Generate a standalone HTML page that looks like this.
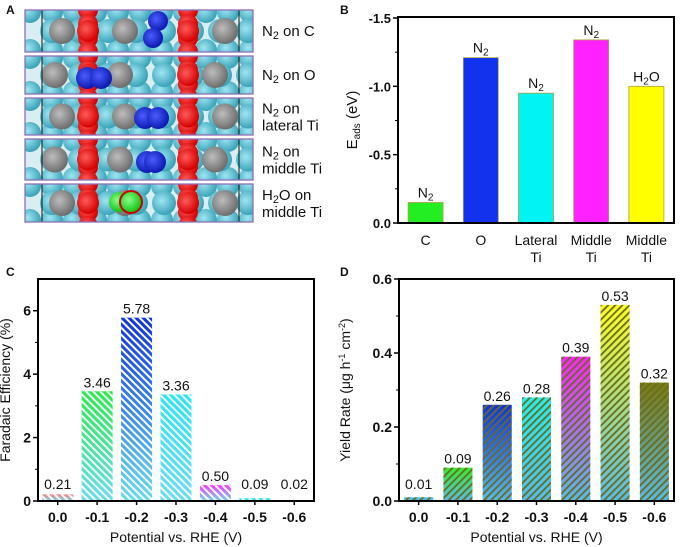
<!DOCTYPE html>
<html><head><meta charset="utf-8">
<style>
body{margin:0;background:#fff;}
svg{display:block;font-family:"Liberation Sans",Arial,sans-serif;}
</style></head>
<body>
<svg id="fig" width="680" height="547" viewBox="0 0 680 547" xmlns="http://www.w3.org/2000/svg">
<defs>
  <pattern id="hatchW" patternUnits="userSpaceOnUse" width="5" height="5" patternTransform="rotate(45)">
    <rect width="5" height="2" fill="#ffffff"/>
  </pattern>
  <pattern id="hatchD" patternUnits="userSpaceOnUse" width="5" height="5" patternTransform="rotate(-45)">
    <rect width="5" height="1.8" fill="#6b6b1a"/>
  </pattern>
  <radialGradient id="gCyan" cx="0.4" cy="0.4" r="0.6"><stop offset="0" stop-color="#9fe6f2"/><stop offset="1" stop-color="#3aa3b8"/></radialGradient>
  <radialGradient id="gGray" cx="0.4" cy="0.4" r="0.6"><stop offset="0" stop-color="#bdbdbd"/><stop offset="1" stop-color="#6e6e6e"/></radialGradient>
  <radialGradient id="gRed" cx="0.4" cy="0.4" r="0.6"><stop offset="0" stop-color="#ff5a5a"/><stop offset="1" stop-color="#d40000"/></radialGradient>
  <radialGradient id="gBlue" cx="0.4" cy="0.4" r="0.6"><stop offset="0" stop-color="#4a5cff"/><stop offset="1" stop-color="#0c1ab0"/></radialGradient>
  <radialGradient id="gGreen" cx="0.4" cy="0.4" r="0.6"><stop offset="0" stop-color="#8aff8a"/><stop offset="1" stop-color="#10c010"/></radialGradient>
</defs>
<g id="panelA"></g>
<g id="panelB"></g>
<g id="panelC"></g>
<g id="panelD"></g>
</svg>
<script>
// ---------- Panel B data ----------
const bCategories = ["C", "O", "Lateral|Ti", "Middle|Ti", "Middle|Ti"];
const bValues = [-0.15, -1.21, -0.95, -1.34, -1.00];
const bLabels = ["N2", "N2", "N2", "N2", "H2O"];
const bColors = ["#22ee22", "#1133ee", "#00f4f4", "#ff22ff", "#ffff00"];
const bTicks = [0, -0.5, -1.0, -1.5];
const bTickLabels = ["0.0", "-0.5", "-1.0", "-1.5"];
// ---------- Panel C data ----------
const cCategories = ["0.0", "-0.1", "-0.2", "-0.3", "-0.4", "-0.5", "-0.6"];
const cValues = [0.21, 3.46, 5.78, 3.36, 0.50, 0.09, 0.02];
const cValueLabels = ["0.21", "3.46", "5.78", "3.36", "0.50", "0.09", "0.02"];
const cTopColors = ["#ff8080", "#22ee44", "#1133dd", "#22e8f0", "#ff33ff", "#22e8f0", "#22e8f0"];
const cTicks = [0, 2, 4, 6];
// ---------- Panel D data ----------
const dCategories = ["0.0", "-0.1", "-0.2", "-0.3", "-0.4", "-0.5", "-0.6"];
const dValues = [0.01, 0.09, 0.26, 0.28, 0.39, 0.53, 0.32];
const dValueLabels = ["0.01", "0.09", "0.26", "0.28", "0.39", "0.53", "0.32"];
const dTopColors = ["#44bbee", "#33ee33", "#1133dd", "#22f0f0", "#ff22ff", "#ffff22", "#7a7a10"];
const dTicks = [0, 0.2, 0.4, 0.6];
const dTickLabels = ["0.0", "0.2", "0.4", "0.6"];

const NS = "http://www.w3.org/2000/svg";
function mk(parent, tag, attrs, text) {
  const e = document.createElementNS(NS, tag);
  for (const k in attrs) e.setAttribute(k, attrs[k]);
  if (text !== undefined) e.textContent = text;
  parent.appendChild(e);
  return e;
}
function chem(parent, x, y, s, size, anchor) {
  const t = mk(parent, "text", {x: x, y: y, "font-size": size, "text-anchor": anchor || "middle", fill: "#111"});
  const m = s.match(/^([A-Z])(\d)(.*)$/);
  if (m) {
    mk(t, "tspan", {}, m[1]);
    mk(t, "tspan", {dy: 3, "font-size": size * 0.72}, m[2]);
    mk(t, "tspan", {dy: -3}, m[3]);
  } else t.textContent = s;
  return t;
}
function panelLetter(g, x, y, L) {
  const t = mk(g, "text", {x: x, y: y, "font-size": 12, "font-weight": "bold", fill: "#111"}, L);
  
  
}

// ---------- Panel A ----------
(function () {
  const g = document.getElementById("panelA");
  panelLetter(g, 6, 14, "A");
  const rows = [[10, 52], [56, 94], [98, 135], [139, 180], [184, 222]];
  const labels = [["N2 on C"], ["N2 on O"], ["N2 on", "lateral Ti"], ["N2 on", "middle Ti"], ["H2O on", "middle Ti"]];
  rows.forEach((r, i) => {
    const box = mk(g, "g", {});
    
    
    const id = "clip" + i;
    const cp = mk(g, "clipPath", {id: id});
    mk(cp, "rect", {x: 25, y: r[0], width: 228, height: r[1] - r[0]});
    const inner = mk(box, "g", {"clip-path": "url(#" + id + ")"});
    mk(inner, "rect", {x: 25, y: r[0], width: 228, height: r[1] - r[0], fill: "#d8eef2"});
    const midY = (r[0] + r[1]) / 2;
    for (let x = 30; x < 260; x += 22) {
      mk(inner, "circle", {cx: x, cy: r[0] + 2, r: 11, fill: "url(#gCyan)"});
      mk(inner, "circle", {cx: x, cy: r[1] - 2, r: 11, fill: "url(#gCyan)"});
    }
    const grayX = i % 2 ? [55, 120, 215] : [62, 125, 225];
    for (let x = 40; x < 260; x += 28) mk(inner, "circle", {cx: x + 12, cy: midY, r: 12, fill: "url(#gCyan)"});
    grayX.forEach(x => mk(inner, "circle", {cx: x, cy: midY, r: 13, fill: "url(#gGray)"}));
    [88, 188].forEach(x => {
      for (let y = r[0]; y <= r[1] + 5; y += 14) mk(inner, "circle", {cx: x, cy: y, r: 10, fill: "url(#gRed)"});
      mk(inner, "circle", {cx: x, cy: midY, r: 11, fill: "url(#gRed)"});
    });
    if (i === 0) { mk(inner, "circle", {cx: 158, cy: 21, r: 10, fill: "url(#gBlue)"}); mk(inner, "circle", {cx: 153, cy: 38, r: 10, fill: "url(#gBlue)"}); }
    if (i === 1) { mk(inner, "circle", {cx: 87, cy: 78, r: 11, fill: "url(#gBlue)"}); mk(inner, "circle", {cx: 101, cy: 78, r: 11, fill: "url(#gBlue)"}); }
    if (i === 2) { mk(inner, "circle", {cx: 145, cy: 118, r: 11, fill: "url(#gBlue)"}); mk(inner, "circle", {cx: 158, cy: 118, r: 11, fill: "url(#gBlue)"}); }
    if (i === 3) { mk(inner, "circle", {cx: 147, cy: 162, r: 11, fill: "url(#gBlue)"}); mk(inner, "circle", {cx: 155, cy: 162, r: 11, fill: "url(#gBlue)"}); }
    if (i === 4) { mk(inner, "circle", {cx: 119, cy: 202, r: 10, fill: "url(#gGreen)"}); mk(inner, "circle", {cx: 131, cy: 202, r: 11, fill: "url(#gGreen)", stroke: "#c00", "stroke-width": 2}); }
    mk(inner, "line", {x1: 42, y1: r[0], x2: 42, y2: r[1], stroke: "#111", "stroke-width": 1});
    mk(inner, "line", {x1: 239, y1: r[0], x2: 239, y2: r[1], stroke: "#111", "stroke-width": 1});
    mk(box, "rect", {x: 25, y: r[0], width: 228, height: r[1] - r[0], fill: "none", stroke: "#8e6fb8", "stroke-width": 1.3});
    const lb = labels[i];
    const ly = lb.length === 1 ? midY + 5 : midY - 3;
    lb.forEach((s, k) => {
      const t = chem(g, 262, ly + k * 17, s, 15, "start");
      
      
    });
  });
})();

function frame(g, L, T, R, B) {
  const f = mk(g, "rect", {x: L, y: T, width: R - L, height: B - T, fill: "none", stroke: "#000", "stroke-width": 2});
  
  
}

// ---------- Panel B ----------
(function () {
  const g = document.getElementById("panelB");
  panelLetter(g, 340, 14, "B");
  const L = 398, R = 674, T = 17, B = 223;
  const y = v => B + (v / 1.5) * (B - 18);
  const step = (R - L) / bValues.length;
  const x = i => L + step * (i + 0.5);
  const bw = 35;
  bValues.forEach((v, i) => {
    const r = mk(g, "rect", {x: x(i) - bw / 2, y: y(v), width: bw, height: B - y(v), fill: bColors[i], stroke: "#b0a040", "stroke-width": 0.8});
    
    
    const t = chem(g, x(i), y(v) - 5, bLabels[i], 14);
    
    
    const parts = bCategories[i].split("|");
    parts.forEach((p, k) => {
      const c = mk(g, "text", {x: x(i), y: 245 + k * 17, "font-size": 14, "text-anchor": "middle", fill: "#111"}, p);
      
      
    });
  });
  frame(g, L, T, R, B);
  bTicks.forEach((v, k) => {
    mk(g, "line", {x1: L, y1: y(v), x2: L - 5, y2: y(v), stroke: "#000", "stroke-width": 1.5});
    const t = mk(g, "text", {x: L - 7, y: y(v) + 5, "font-size": 13, "font-weight": "bold", "text-anchor": "end", fill: "#111"}, bTickLabels[k]);
    
    
    if (k < bTicks.length - 1) { const m = y(v - 0.25); mk(g, "line", {x1: L, y1: m, x2: L - 3, y2: m, stroke: "#000", "stroke-width": 1}); }
  });
  const yt = mk(g, "text", {transform: "translate(357,120) rotate(-90)", "font-size": 15, "text-anchor": "middle", fill: "#111"});
  
  
  mk(yt, "tspan", {}, "E");
  mk(yt, "tspan", {dy: 3, "font-size": 10}, "ads");
  mk(yt, "tspan", {dy: -3}, " (eV)");
})();

function gradChart(gid, letter, L, R, T, B, maxV, ticks, tickLabels, vals, valLabels, cats, tops, bottom, hatch, ytitle, bw, ytx) {
  const g = document.getElementById(gid);
  panelLetter(g, letter === "C" ? 6 : 340, 276, letter);
  const y = v => B - (v / maxV) * (B - T);
  const step = (R - L) / vals.length;
  const x = i => L + step * (i + 0.5);
  vals.forEach((v, i) => {
    const gid2 = gid + "grad" + i;
    const lg = mk(g, "linearGradient", {id: gid2, x1: 0, y1: 0, x2: 0, y2: 1});
    mk(lg, "stop", {offset: 0, "stop-color": tops[i]});
    mk(lg, "stop", {offset: 1, "stop-color": bottom});
    const r = mk(g, "rect", {x: x(i) - bw / 2, y: y(v), width: bw, height: B - y(v), fill: "url(#" + gid2 + ")"});
    
    
    mk(g, "rect", {x: x(i) - bw / 2, y: y(v), width: bw, height: B - y(v), fill: "url(#" + hatch + ")"});
    const t = mk(g, "text", {x: x(i), y: Math.min(y(v), B - 8) - 4, "font-size": 14, "text-anchor": "middle", fill: "#111"}, valLabels[i]);
    
    
    const c = mk(g, "text", {x: x(i), y: 522, "font-size": 14, "font-weight": "bold", "text-anchor": "middle", fill: "#111"}, cats[i]);
    
    
    mk(g, "line", {x1: x(i), y1: B, x2: x(i), y2: B + 4, stroke: "#000", "stroke-width": 1.5});
  });
  frame(g, L, T, R, B);
  ticks.forEach((v, k) => {
    mk(g, "line", {x1: L, y1: y(v), x2: L - 5, y2: y(v), stroke: "#000", "stroke-width": 1.5});
    const t = mk(g, "text", {x: L - 7, y: y(v) + 5, "font-size": 14, "font-weight": "bold", "text-anchor": "end", fill: "#111"}, tickLabels[k]);
    
    
    if (k < ticks.length - 1) { const m = y((v + ticks[k + 1]) / 2); mk(g, "line", {x1: L, y1: m, x2: L - 3, y2: m, stroke: "#000", "stroke-width": 1}); }
  });
  const xt = mk(g, "text", {x: (L + R) / 2, y: 542, "font-size": 14, "text-anchor": "middle", fill: "#111"}, "Potential vs. RHE (V)");
  
  
  const yt = mk(g, "text", {transform: "translate(" + ytx + "," + ((T + B) / 2) + ") rotate(-90)", "font-size": 14, "text-anchor": "middle", fill: "#111"});
  
  
  ytitle(yt);
}
gradChart("panelC", "C", 38, 314, 279, 501, 7, cTicks, cTicks.map(String), cValues, cValueLabels, cCategories, cTopColors, "#66ddf0", "hatchW",
  t => { t.textContent = "Faradaic Efficiency (%)"; }, 31, 10);
gradChart("panelD", "D", 399, 674, 279, 501, 0.6, dTicks, dTickLabels, dValues, dValueLabels, dCategories, dTopColors, "#55bbee", "hatchD",
  t => {
    mk(t, "tspan", {}, "Yield Rate (μg h");
    mk(t, "tspan", {dy: -5, "font-size": 9}, "-1");
    mk(t, "tspan", {dy: 5}, " cm");
    mk(t, "tspan", {dy: -5, "font-size": 9}, "-2");
    mk(t, "tspan", {dy: 5}, ")");
  }, 29, 350);
</script>
</body></html>
